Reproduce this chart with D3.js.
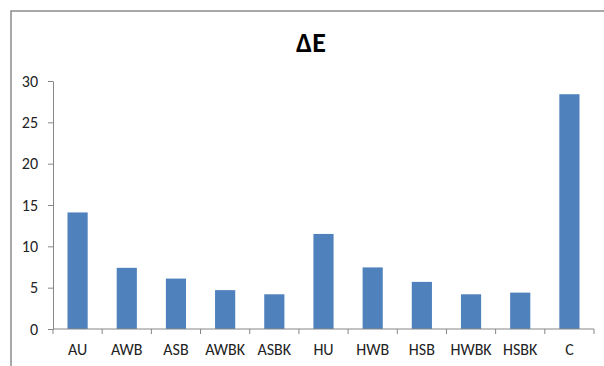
<!DOCTYPE html>
<html>
<head>
<meta charset="utf-8">
<script src="https://cdn.jsdelivr.net/npm/d3@7"></script>
<style>
  html, body { margin: 0; padding: 0; background: #fff; }
  svg { display: block; }
</style>
</head>
<body>
<svg id="chart" width="604" height="366"></svg>
<script>
// ΔE per sample
const categories = ["AU", "AWB", "ASB", "AWBK", "ASBK", "HU", "HWB", "HSB", "HWBK", "HSBK", "C"];
const deltaE = [14.1, 7.4, 6.1, 4.7, 4.2, 11.5, 7.45, 5.7, 4.2, 4.4, 28.4];
const yTicks = [0, 5, 10, 15, 20, 25, 30];

const svg = d3.select("#chart");
const fontFamily = "Calibri, Carlito, 'Open Sans', 'Liberation Sans', Arial, sans-serif";

// Chart frame
svg.append("path")
  .attr("d", "M11,366 V11 H604")
  .attr("fill", "none")
  .attr("stroke", "#8c8c8c")
  .attr("stroke-width", 1.5);

const plot = { left: 53, right: 594, top: 81, bottom: 329 };

const x = d3.scaleBand()
  .domain(categories)
  .range([plot.left, plot.right])
  .paddingInner(0.59)
  .paddingOuter(0.295);

const y = d3.scaleLinear()
  .domain([0, 30])
  .range([plot.bottom, plot.top]);

// Title
svg.append("text")
  .attr("x", 311)
  .attr("y", 52)
  .attr("text-anchor", "middle")
  .attr("font-family", fontFamily)
  .attr("font-weight", "bold")
  .attr("font-size", 28)
  .attr("fill", "#000")
  .text("ΔE");

// Bars
svg.append("g")
  .selectAll("rect")
  .data(categories)
  .join("rect")
  .attr("x", (d) => x(d))
  .attr("width", x.bandwidth())
  .attr("y", (d, i) => y(deltaE[i]))
  .attr("height", (d, i) => y(0) - y(deltaE[i]))
  .attr("fill", "#4f81bd");

const axisColor = "#868686";

// Y axis
const yAxis = svg.append("g")
  .attr("transform", `translate(${plot.left},0)`)
  .call(d3.axisLeft(y).tickValues(yTicks).tickSize(5).tickPadding(10).tickSizeOuter(0));
yAxis.select(".domain").attr("stroke", axisColor);
yAxis.selectAll(".tick line").attr("stroke", axisColor);
yAxis.selectAll(".tick text")
  .attr("font-family", fontFamily)
  .attr("font-size", 16)
  .attr("fill", "#222");

// X axis: ticks sit at the category boundaries
const xAxisG = svg.append("g").attr("transform", `translate(0,${plot.bottom})`);
xAxisG.append("line")
  .attr("x1", plot.left).attr("x2", plot.right)
  .attr("stroke", axisColor);
const step = x.step();
const boundaries = d3.range(categories.length + 1).map((i) => plot.left + i * step);
xAxisG.selectAll("line.tick")
  .data(boundaries)
  .join("line")
  .attr("class", "tick")
  .attr("x1", (d) => d).attr("x2", (d) => d)
  .attr("y1", 0).attr("y2", 5)
  .attr("stroke", axisColor);
xAxisG.selectAll("text")
  .data(categories)
  .join("text")
  .attr("x", (d) => x(d) + x.bandwidth() / 2)
  .attr("y", 26)
  .attr("text-anchor", "middle")
  .attr("font-family", fontFamily)
  .attr("font-size", 16)
  .attr("fill", "#222")
  .text((d) => d);
</script>
</body>
</html>
